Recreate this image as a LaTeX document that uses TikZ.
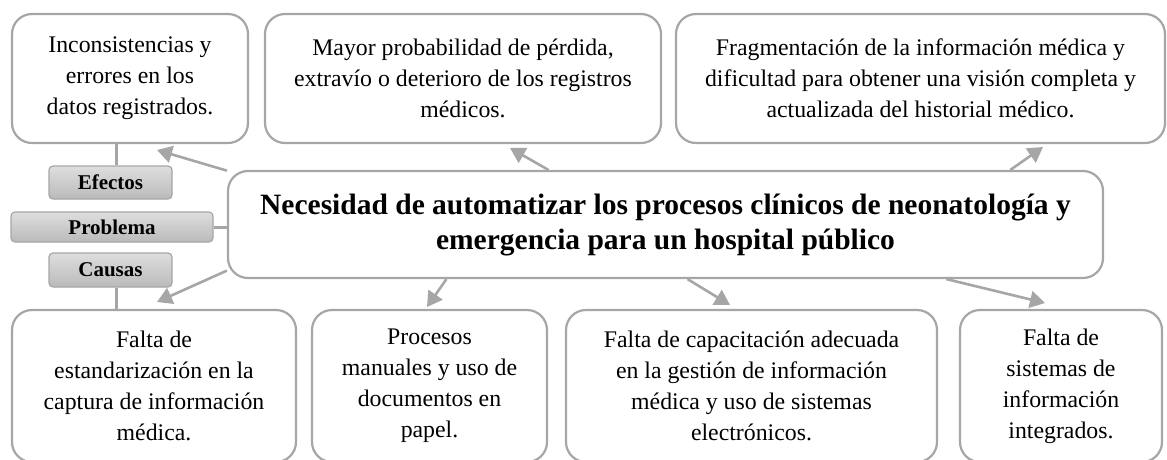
\documentclass[tikz,border=0pt]{standalone}
\usepackage{fontspec}
\setmainfont{Liberation Serif}
\usetikzlibrary{arrows.meta}
\definecolor{bord}{HTML}{A6A6A6}
\tikzset{
  box/.style={draw=bord, line width=2.2pt, rounded corners=20pt, fill=white, align=center,
    font=\fontsize{23.8}{31}\selectfont, inner sep=0pt},
  mainbox/.style={box, font=\bfseries\fontsize{29.5}{35}\selectfont},
  lab/.style={draw=bord, line width=1.2pt, rounded corners=4pt, top color=black!13, bottom color=black!27,
    font=\bfseries\fontsize{21}{22}\selectfont, inner sep=0pt},
  arr/.style={draw=bord, line width=2.6pt, -{Triangle[length=15pt,width=17pt]}},
  link/.style={draw=bord, line width=3pt},
}
\begin{document}
\begin{tikzpicture}[x=1pt,y=-1pt]
\useasboundingbox (0,0) rectangle (1167,459);
% effects
\node[box, minimum width=236pt, minimum height=129pt] (e1) at (130,78.5)
  {Inconsistencias y\\errores en los\\datos registrados.};
\node[box, minimum width=396pt, minimum height=129pt] (e2) at (463,78.5)
  {Mayor probabilidad de pérdida,\\extravío o deterioro de los registros\\médicos.};
\node[box, minimum width=489pt, minimum height=129pt] (e3) at (920.5,78.5)
  {Fragmentación de la información médica y\\dificultad para obtener una visión completa y\\actualizada del historial médico.};
% causes
\node[box, minimum width=284pt, minimum height=152pt] (c1) at (154,386)
  {Falta de\\estandarización en la\\captura de información\\médica.};
\node[box, minimum width=235pt, minimum height=152pt] (c2) at (429.5,386)
  {Procesos\\manuales y uso de\\documentos en\\papel.};
\node[box, minimum width=371pt, minimum height=152pt] (c3) at (751.5,386)
  {Falta de capacitación adecuada\\en la gestión de información\\médica y uso de sistemas\\electrónicos.};
\node[box, minimum width=202pt, minimum height=152pt] (c4) at (1061,386)
  {Falta de\\sistemas de\\información\\integrados.};
% main problem
\node[mainbox, minimum width=875pt, minimum height=107pt] (main) at (665.5,224.5)
  {Necesidad de automatizar los procesos clínicos de neonatología y\\emergencia para un hospital público};
% labels
\node[lab, minimum width=123pt, minimum height=33pt] (ef) at (110.5,182.5) {Efectos};
\node[lab, minimum width=202pt, minimum height=30pt] (pr) at (112,227) {Problema};
\node[lab, minimum width=123pt, minimum height=34pt] (ca) at (110.5,270) {Causas};
% links
\draw[link] ([xshift=5.5pt]ef.north) -- ([xshift=5.5pt]ef.north |- e1.south);
\draw[link] (pr.east) -- (main.west |- pr.east);
\draw[link] ([xshift=5.5pt]ca.south) -- ([xshift=5.5pt]ca.south |- c1.north);
% arrow tips
\coordinate (t1) at (157,150);
\coordinate (t2) at (510,148);
\coordinate (t3) at (1043,147);
\coordinate (t4) at (157,302);
\coordinate (t5) at (427,307);
\coordinate (t6) at (730,305);
\coordinate (t7) at (1045,303);
\draw[arr] (main.173.5) -- (t1);
\draw[arr] (main.155.15) -- (t2);
\draw[arr] (main.9.97) -- (t3);
\draw[arr] (main.186.2) -- (t4);
\draw[arr] (main.194.26) -- (t5);
\draw[arr] (main.292.8) -- (t6);
\draw[arr] (main.349.87) -- (t7);
\end{tikzpicture}
\end{document}
